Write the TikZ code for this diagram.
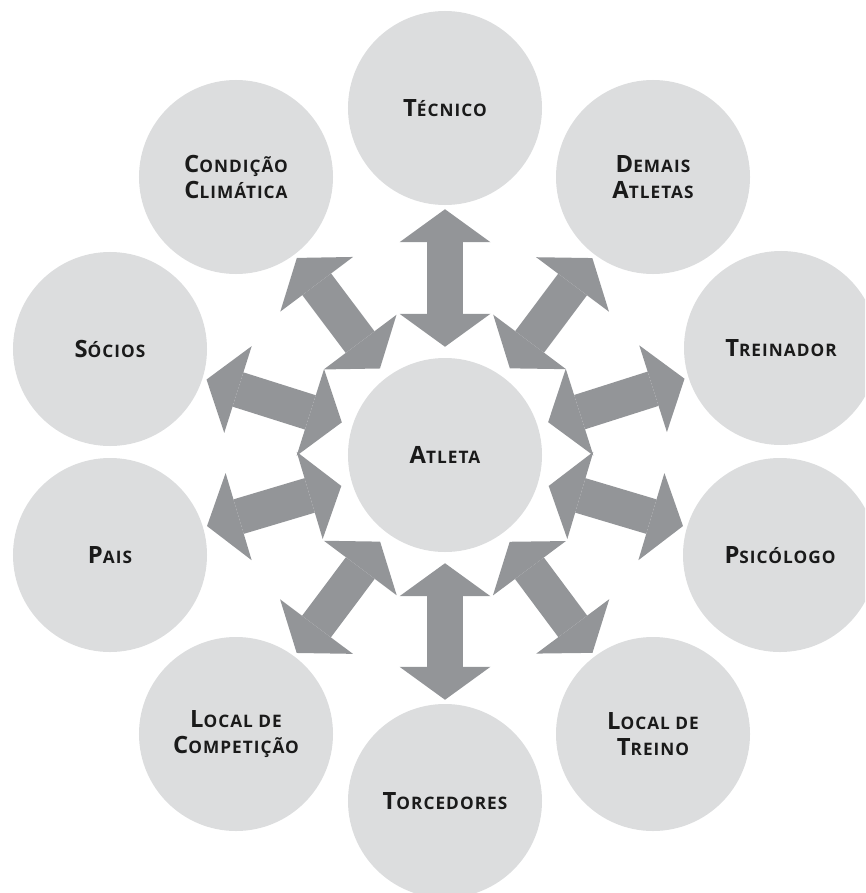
\documentclass[tikz,border=0pt]{standalone}
\usepackage{fontspec}
\setmainfont{Open Sans}[LetterSpace=6]
\usepackage{tikz}
\usetikzlibrary{arrows.meta}
\definecolor{discgray}{HTML}{DCDDDE}
\definecolor{arrowgray}{HTML}{939598}
\definecolor{labelblack}{HTML}{1A1A1A}
\newcommand{\lowcaps}[1]{{\fontsize{14.7}{22.7}\selectfont #1}}

\begin{document}
\begin{tikzpicture}[x=0.03cm,y=-0.03cm,
  disc/.style={circle,fill=discgray,minimum size=5.82cm,inner sep=0pt,align=center,text=labelblack,font=\fontsize{20.3}{22.7}\selectfont\bfseries},
  dbl/.style={draw=arrowgray,line width=1.08cm,{Triangle[length=0.99cm,width=2.73cm,line width=0pt]}-{Triangle[length=0.99cm,width=2.73cm,line width=0pt]},shorten <=0.33cm,shorten >=0.12cm}]
\useasboundingbox (0,0) rectangle (865,893);
\clip (0,0) rectangle (865,893);
% ---------- hub ----------
\node[disc] (atl) at (445,455) {A\lowcaps{TLETA}};
% ---------- ring ----------
\node[disc] (tec) at (445,108) {T\lowcaps{ÉCNICO}};
\node[disc] (dem) at (653,177) {D\lowcaps{EMAIS}\\A\lowcaps{TLETAS}};
\node[disc] (tre) at (781,348) {T\lowcaps{REINADOR}};
\node[disc] (psi) at (780,555) {P\lowcaps{SICÓLOGO}};
\node[disc] (ltr) at (653,734) {L\lowcaps{OCAL DE}\\T\lowcaps{REINO}};
\node[disc] (tor) at (445,801) {T\lowcaps{ORCEDORES}};
\node[disc] (lco) at (236,734) {L\lowcaps{OCAL DE}\\C\lowcaps{OMPETIÇÃO}};
\node[disc] (pai) at (110,555) {P\lowcaps{AIS}};
\node[disc] (soc) at (110,349) {S\lowcaps{ÓCIOS}};
\node[disc] (cli) at (236,177) {C\lowcaps{ONDIÇÃO}\\C\lowcaps{LIMÁTICA}};
% ---------- arrows ----------
\foreach \n in {tec,dem,tre,psi,ltr,tor,lco,pai,soc,cli}{\draw[dbl] (atl) -- (\n);}
\end{tikzpicture}
\end{document}
